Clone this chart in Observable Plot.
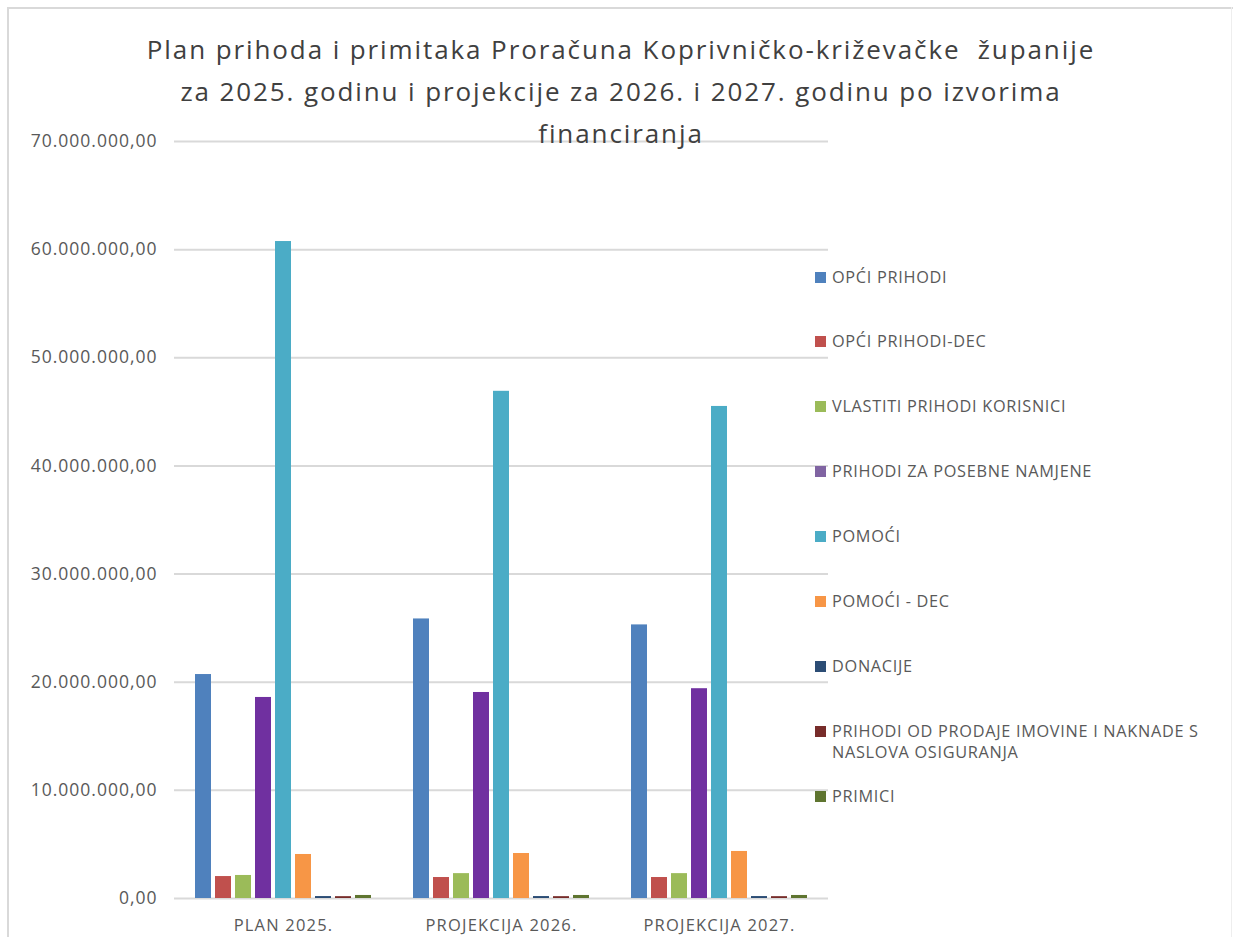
<!DOCTYPE html>
<html>
<head>
<meta charset="utf-8">
<script src="https://cdn.jsdelivr.net/npm/d3@7"></script>
<script src="https://cdn.jsdelivr.net/npm/@observablehq/plot@0.6"></script>
<style>
  html, body { margin: 0; padding: 0; background: #fff; }
  #wrap { position: relative; width: 1233px; height: 937px; overflow: hidden; font-family: "Open Sans", Lato, sans-serif; color: #595959; }
  #frame { position: absolute; left: 7px; top: 7px; width: 1240px; height: 960px; border-left: 2px solid #d9d9d9; border-top: 2px solid #d9d9d9; box-sizing: border-box; }
  #rightline { position: absolute; left: 1231px; top: 7px; width: 1px; height: 940px; background: #eeeeee; }
  #chart { position: absolute; left: 0; top: 0; }
  #chart g[aria-label="y-axis tick label"] text { letter-spacing: 1px; }
  #chart g[aria-label="fx-axis tick label"] text { letter-spacing: 1.2px; }
  #title { position: absolute; left: 21px; width: 1200px; top: 28px; text-align: center; font-size: 26px; letter-spacing: 1.9px; line-height: 42px; color: #404040; }
  .leg { position: absolute; left: 815px; font-size: 16.3px; line-height: 21px; color: #595959; white-space: nowrap; letter-spacing: 0.7px; }
  .leg .sw { position: absolute; left: 0; top: 5px; width: 11px; height: 11px; }
  .leg .tx { position: absolute; left: 17px; top: 0; }
</style>
</head>
<body>
<div id="wrap">
  <div id="frame"></div>
  <div id="rightline"></div>
  <div id="chart"></div>
  <div id="title"></div>
  <div id="legend"></div>
</div>
<script>
const titleLines = [
  "Plan prihoda i primitaka Proračuna Koprivničko-križevačke  županije",
  "za 2025. godinu i projekcije za 2026. i 2027. godinu po izvorima",
  "financiranja"
];
const periods = ["PLAN 2025.", "PROJEKCIJA 2026.", "PROJEKCIJA 2027."];
const series = [
  "OPĆI PRIHODI",
  "OPĆI PRIHODI-DEC",
  "VLASTITI PRIHODI KORISNICI",
  "PRIHODI ZA POSEBNE NAMJENE",
  "POMOĆI",
  "POMOĆI - DEC",
  "DONACIJE",
  "PRIHODI OD PRODAJE IMOVINE I NAKNADE S NASLOVA OSIGURANJA",
  "PRIMICI"
];
const legendLines = [
  ["OPĆI PRIHODI"],
  ["OPĆI PRIHODI-DEC"],
  ["VLASTITI PRIHODI KORISNICI"],
  ["PRIHODI ZA POSEBNE NAMJENE"],
  ["POMOĆI"],
  ["POMOĆI - DEC"],
  ["DONACIJE"],
  ["PRIHODI OD PRODAJE IMOVINE I NAKNADE S", "NASLOVA OSIGURANJA"],
  ["PRIMICI"]
];
const barColors = ["#4F81BD", "#C0504D", "#9BBB59", "#7030A0", "#4BACC6", "#F79646", "#2C4D75", "#772C2A", "#5F7530"];
const legendColors = ["#4F81BD", "#C0504D", "#9BBB59", "#8064A2", "#4BACC6", "#F79646", "#2C4D75", "#772C2A", "#5F7530"];
const values2025 = [20710000, 2030000, 2130000, 18590000, 60750000, 4070000, 180000, 170000, 280000];
const values2026 = [25850000, 1940000, 2300000, 19050000, 46900000, 4160000, 180000, 170000, 280000];
const values2027 = [25300000, 1940000, 2300000, 19400000, 45500000, 4350000, 180000, 170000, 280000];
const yTicks = [0, 10000000, 20000000, 30000000, 40000000, 50000000, 60000000, 70000000];

const valuesByPeriod = [values2025, values2026, values2027];
const data = [];
periods.forEach((p, i) => series.forEach((s, j) => data.push({period: p, series: s, value: valuesByPeriod[i][j]})));

const hr = d3.formatLocale({decimal: ",", thousands: ".", grouping: [3], currency: ["", ""]});
const fmt = hr.format(",.2f");

const chart = Plot.plot({
  width: 1233,
  height: 937,
  marginLeft: 173,
  marginRight: 405,
  marginTop: 141,
  marginBottom: 39,
  style: {fontFamily: "'Open Sans', Lato, sans-serif", color: "#595959", background: "transparent"},
  fx: {domain: periods, padding: 0, label: null},
  x: {domain: series, paddingInner: 0.18, paddingOuter: 0.86, axis: null},
  y: {domain: [0, 70000000], label: null},
  color: {domain: series, range: barColors},
  marks: [
    Plot.gridY(yTicks, {stroke: "#d9d9d9", strokeWidth: 2, strokeOpacity: 1}),
    Plot.barY(data, {fx: "period", x: "series", y: "value", fill: "series"}),
    Plot.axisY(yTicks, {tickSize: 0, tickPadding: 17, tickFormat: fmt, fontSize: 17.5, fill: "#595959"}),
    Plot.axisFx({anchor: "bottom", tickSize: 0, tickPadding: 21, fontSize: 16.5, fill: "#595959", label: null})
  ]
});
document.getElementById("chart").appendChild(chart);

const t = document.getElementById("title");
t.innerHTML = titleLines.map(l => `<div style="white-space:pre">${l}</div>`).join("");

const leg = document.getElementById("legend");
legendLines.forEach((lines, i) => {
  const d = document.createElement("div");
  d.className = "leg";
  d.style.top = (277 - 10.5 + i * 64.9) + "px";
  d.innerHTML = `<div class="sw" style="background:${legendColors[i]}"></div><div class="tx">${lines.join("<br>")}</div>`;
  leg.appendChild(d);
});
</script>
</body>
</html>
